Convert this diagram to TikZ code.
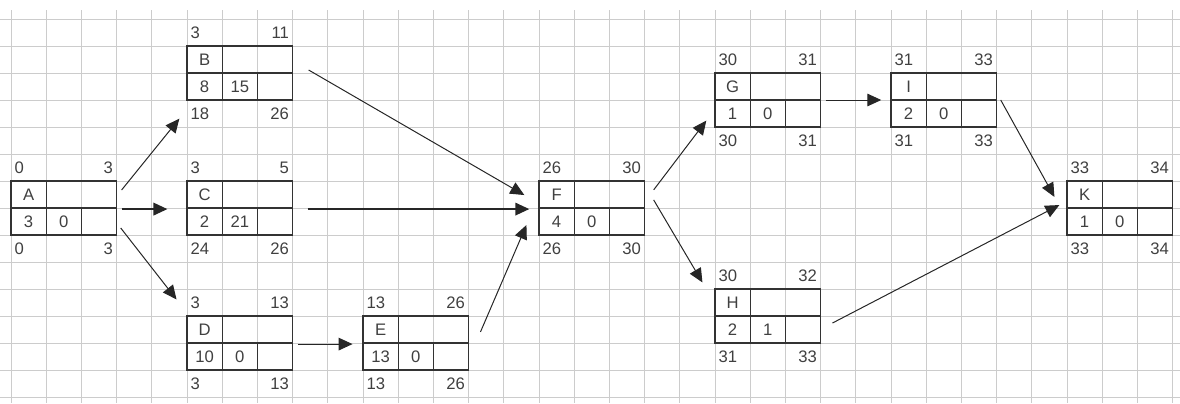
\documentclass[tikz,border=0pt]{standalone}
\usepackage{fontspec}
\setmainfont{Liberation Sans}
\usetikzlibrary{arrows.meta}

\begin{document}
\begin{tikzpicture}[
  x=26.4pt, y=-20.25pt,
  gridline/.style={gray!40,line width=0.6pt},
  actbox/.style={draw=black!80,line width=0.9pt,inner sep=0pt,
    minimum width=79.2pt,minimum height=40.5pt},
  boxline/.style={black!80,line width=0.9pt},
  cell/.style={inner sep=2.5pt,text=black!75,font=\fontsize{12.5}{14}\selectfont},
  arr/.style={-{Triangle[length=10.5pt,width=9.5pt]},line width=0.75pt,black!85},
  heavy/.style={line width=1.2pt}
]
  \useasboundingbox (-0.3125,-0.7037) rectangle (33.21,14.222);

  % sheet grid
  \foreach \k in {0,...,14}
    \draw[gridline] (-0.3125,\k) -- (33.21,\k);
  \foreach \j in {0,...,33}
    \draw[gridline] (\j,-0.33) -- (\j,14.222);

  % activities: name/col/row/duration/slack/ES/EF/LS/LF
  \foreach \n/\c/\r/\dur/\sl/\es/\ef/\ls/\lf in {
      A/0/6/3/0/0/3/0/3,
      B/5/1/8/15/3/11/18/26,
      C/5/6/2/21/3/5/24/26,
      D/5/11/10/0/3/13/3/13,
      E/10/11/13/0/13/26/13/26,
      F/15/6/4/0/26/30/26/30,
      G/20/2/1/0/30/31/30/31,
      H/20/10/2/1/30/32/31/33,
      I/25/2/2/0/31/33/31/33,
      K/30/6/1/0/33/34/33/34} {
    \node[actbox] (\n) at (\c+1.5,\r+1) {};
    \draw[boxline] (\n.west) -- (\n.east)
      (\c+1,\r) -- (\c+1,\r+2)
      (\c+2,\r+1) -- (\c+2,\r+2);
    \node[cell] at (\c+.5,\r+.5) {\n};
    \node[cell] at (\c+.5,\r+1.5) {\dur};
    \node[cell] at (\c+1.5,\r+1.5) {\sl};
    \node[cell,anchor=west] at (\c,\r-.5) {\es};
    \node[cell,anchor=east] at (\c+3,\r-.5) {\ef};
    \node[cell,anchor=west] at (\c,\r+2.5) {\ls};
    \node[cell,anchor=east] at (\c+3,\r+2.5) {\lf};
  }

  \draw[arr] ([shift={(0.125,-0.667)}]A.east) -- ([shift={(-0.2,0.667)}]B.south west);
  \draw[arr,heavy] ([shift={(0.125,0.04)}]A.east) -- ([shift={(-0.54,0.04)}]C.west);
  \draw[arr] ([shift={(0.1,0.74)}]A.east) -- ([shift={(-0.28,-0.59)}]D.north west);
  \draw[arr] ([shift={(0.44,-0.11)}]B.east) -- ([shift={(-0.4,-0.48)}]F.west);
  \draw[arr,heavy] ([shift={(0.41,0.04)}]C.east) -- ([shift={(-0.26,0.04)}]F.west);
  \draw[arr] ([shift={(0.15,0.04)}]D.east) -- ([shift={(-0.28,0.04)}]E.west);
  \draw[arr] ([shift={(0.32,-0.41)}]E.east) -- ([shift={(-0.34,0.63)}]F.west);
  \draw[arr] ([shift={(0.24,-0.67)}]F.east) -- ([shift={(-0.23,-0.26)}]G.south west);
  \draw[arr] ([shift={(0.24,-0.3)}]F.east) -- ([shift={(-0.34,-0.22)}]H.north west);
  \draw[arr] ([shift={(0.125,0)}]G.east) -- ([shift={(-0.26,0)}]I.west);
  \draw[arr] ([shift={(0.1,0)}]I.east) -- ([shift={(-0.34,-0.41)}]K.west);
  \draw[arr] ([shift={(0.32,0.26)}]H.east) -- ([shift={(-0.2,-0.11)}]K.west);
\end{tikzpicture}
\end{document}
